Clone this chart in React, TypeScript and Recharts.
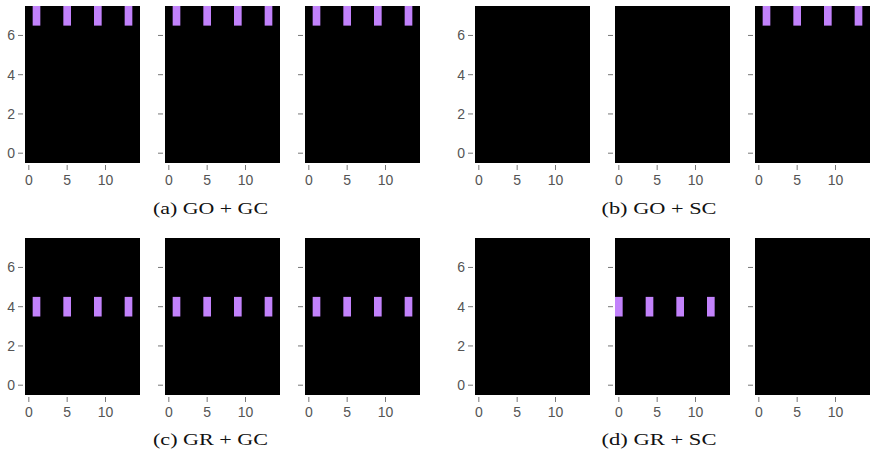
import React from "react"
import { ScatterChart, XAxis, YAxis, ReferenceArea } from "recharts"

// image grid: 15 columns x 8 rows, cell centers at integers
const gridCols = 15
const gridRows = 8
const xTicks = [0, 5, 10]
const yTicks = [0, 2, 4, 6]

// lit cells, as column lists per row
const colsOdd = [1, 5, 9, 13]
const colsEven = [0, 4, 8, 12]
const rowTop = 7
const rowMid = 4

type Cell = { col: number; row: number }
const litRow = (cols: number[], row: number): Cell[] => cols.map((col) => ({ col, row }))

// three frames per subfigure
const goGc: Cell[][] = [litRow(colsOdd, rowTop), litRow(colsOdd, rowTop), litRow(colsOdd, rowTop)]
const goSc: Cell[][] = [[], [], litRow(colsOdd, rowTop)]
const grGc: Cell[][] = [litRow(colsOdd, rowMid), litRow(colsOdd, rowMid), litRow(colsOdd, rowMid)]
const grSc: Cell[][] = [[], litRow(colsEven, rowMid), []]

const captions = ["(a) GO + GC", "(b) GO + SC", "(c) GR + GC", "(d) GR + SC"]
const subfigures = [goGc, goSc, grGc, grSc]

const ON = "#c282fb"
const TICK_TEXT = "#555"
const TICK_LINE = "#777"

// layout
const IMG_W = 115
const IMG_H = 157
const GAP = 2 // space between image and ticks
const Y_AXIS_W = 23
const X_AXIS_H = 30
const PANEL_STEP = 140
const groupLefts = [25, 475]
const rowTops = [5.5, 238]
const captionCenters = [210.5, 659]
const captionBaselines = [214, 445]

const xPad = (gridCols * GAP) / IMG_W
const yPad = (gridRows * GAP) / IMG_H

function Frame({ cells, labels }: { cells: Cell[]; labels: boolean }) {
  const tickStyle = { fill: TICK_TEXT, fontSize: 14, fontFamily: "'Liberation Sans', Arial, sans-serif" }
  return (
    <ScatterChart
      width={Y_AXIS_W + IMG_W + GAP}
      height={IMG_H + GAP + X_AXIS_H}
      margin={{ top: 0, right: 0, bottom: 0, left: 0 }}
    >
      <XAxis
        type="number"
        dataKey="col"
        domain={[-0.5 - xPad, gridCols - 0.5]}
        allowDataOverflow
        ticks={xTicks}
        axisLine={false}
        tickSize={5}
        tickMargin={5}
        tickLine={{ stroke: TICK_LINE }}
        tick={tickStyle}
        height={X_AXIS_H}
      />
      <YAxis
        type="number"
        dataKey="row"
        domain={[-0.5 - yPad, gridRows - 0.5]}
        allowDataOverflow
        ticks={yTicks}
        axisLine={false}
        tickSize={5}
        tickMargin={3}
        tickLine={{ stroke: TICK_LINE }}
        tick={tickStyle}
        tickFormatter={(v: number) => (labels ? String(v) : "")}
        width={Y_AXIS_W}
      />
      <ReferenceArea
        x1={-0.5}
        x2={gridCols - 0.5}
        y1={-0.5}
        y2={gridRows - 0.5}
        fill="#000"
        fillOpacity={1}
        stroke="none"
      />
      {cells.map((c, i) => (
        <ReferenceArea
          key={i}
          x1={c.col - 0.5}
          x2={c.col + 0.5}
          y1={c.row - 0.5}
          y2={c.row + 0.5}
          fill={ON}
          fillOpacity={1}
          stroke="none"
        />
      ))}
    </ScatterChart>
  )
}

export default function App() {
  return (
    <div style={{ position: "absolute", left: 0, top: 0, width: 876, height: 459, background: "#fff", overflow: "hidden" }}>
      {subfigures.map((frames, s) => {
        const gx = groupLefts[s % 2]
        const gy = rowTops[Math.floor(s / 2)]
        return frames.map((cells, f) => (
          <div
            key={`${s}-${f}`}
            style={{ position: "absolute", left: gx + f * PANEL_STEP - Y_AXIS_W - GAP, top: gy }}
          >
            <Frame cells={cells} labels={f === 0} />
          </div>
        ))
      })}
      <svg width={876} height={459} style={{ position: "absolute", left: 0, top: 0, pointerEvents: "none" }}>
        {captions.map((t, i) => (
          <text
            key={t}
            x={captionCenters[i % 2]}
            y={captionBaselines[Math.floor(i / 2)]}
            textAnchor="middle"
            fontFamily="'Liberation Serif', 'Times New Roman', serif"
            fontSize={17}
            fill="#111"
            textLength={115}
            lengthAdjust="spacingAndGlyphs"
          >
            {t}
          </text>
        ))}
      </svg>
    </div>
  )
}
